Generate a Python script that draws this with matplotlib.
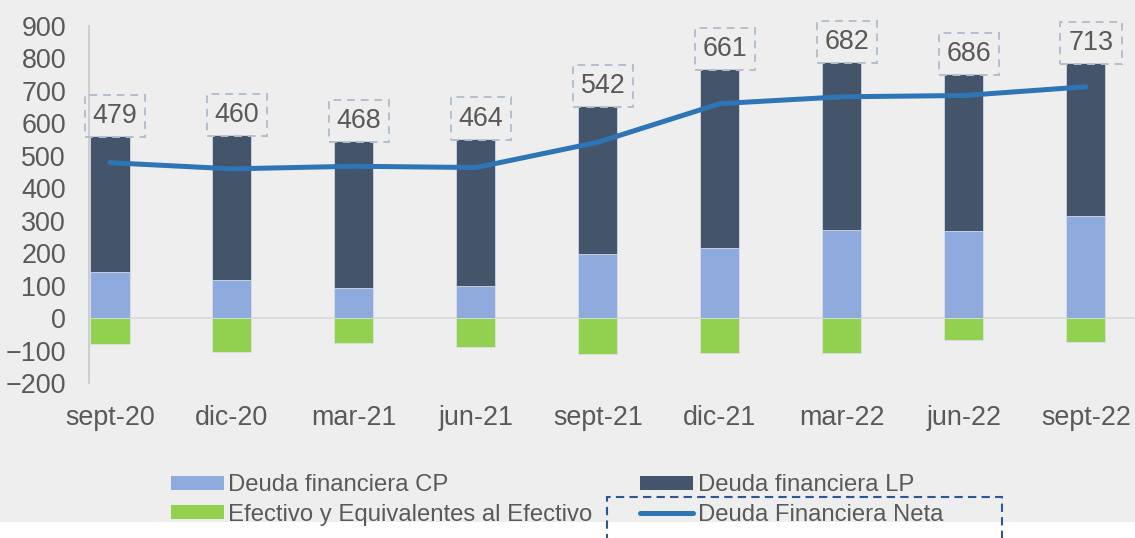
import numpy as np
import matplotlib
matplotlib.use("Agg")
import matplotlib.pyplot as plt
from matplotlib.patches import Rectangle
from matplotlib.lines import Line2D

plt.rcParams['font.family'] = ['Liberation Sans', 'DejaVu Sans']

# data
periodos = ['sept-20', 'dic-20', 'mar-21', 'jun-21', 'sept-21',
            'dic-21', 'mar-22', 'jun-22', 'sept-22']
deuda_cp = [143, 119, 94, 100, 199, 217, 272, 269, 315]
deuda_lp = [417, 444, 451, 453, 454, 551, 517, 483, 470]
efectivo = [-81, -104, -76, -89, -110, -106, -107, -66, -72]
deuda_neta = [479, 460, 468, 464, 542, 661, 682, 686, 713]

c_cp = '#8FAADC'
c_lp = '#44546A'
c_ef = '#92D050'
c_neta = '#2E75B6'
c_txt = '#595959'
bg = '#EEEEEE'

fig = plt.figure(figsize=(11.35, 5.38), dpi=100, facecolor='white')
# gray chart area (white strip at the very bottom)
fig.patches.append(Rectangle((0, 0.0297), 1, 1, transform=fig.transFigure,
                             facecolor=bg, edgecolor='none', zorder=-10))

ax = fig.add_axes([89 / 1135, 0.288, 1046 / 1135, 0.6636])
ax.set_facecolor(bg)

x = np.arange(len(periodos))
w = 0.32
ax.axhline(0, color='#D9D9D9', lw=1.3, zorder=1)
ax.bar(x, deuda_cp, w, color=c_cp, edgecolor='#DCE3EE', lw=0.5, zorder=2)
ax.bar(x, deuda_lp, w, bottom=deuda_cp, color=c_lp, edgecolor='#DCE3EE', lw=0.5, zorder=2)
ax.bar(x, efectivo, w, color=c_ef, edgecolor='#DCE3EE', lw=0.5, zorder=2)
ax.plot(x, deuda_neta, color=c_neta, lw=3.6, solid_capstyle='round',
        solid_joinstyle='round', zorder=3)

total = np.array(deuda_cp) + np.array(deuda_lp)
for xi, t, v in zip(x, total, deuda_neta):
    ax.annotate(str(v), (xi, t), xytext=(3.6, 14.5), textcoords='offset points',
                ha='center', va='center', fontsize=19.4, color=c_txt, zorder=4,
                bbox=dict(boxstyle='square,pad=0.3', facecolor='none',
                          edgecolor='#B4BFCF', lw=1.4, linestyle=(0, (4, 3))))

ax.set_xlim(-0.172, 8.402)
ax.set_ylim(-200, 900)
ax.set_yticks(range(-200, 901, 100))
ax.set_xticks(x)
ax.set_xticklabels(periodos)
ax.tick_params(axis='both', length=0, labelsize=19.4, labelcolor=c_txt)
ax.tick_params(axis='y', pad=16.5)
ax.tick_params(axis='x', pad=16)
for s in ['top', 'right', 'bottom']:
    ax.spines[s].set_visible(False)
ax.spines['left'].set_color('#C8C8C8')
ax.spines['left'].set_linewidth(1.2)

handles = [
    Rectangle((0, 0), 1, 1, facecolor=c_cp),
    Rectangle((0, 0), 1, 1, facecolor=c_ef),
    Rectangle((0, 0), 1, 1, facecolor=c_lp),
    Line2D([0], [0], color=c_neta, lw=3.6, solid_capstyle='round'),
]
labels = ['Deuda financiera CP', 'Efectivo y Equivalentes al Efectivo',
          'Deuda financiera LP', 'Deuda Financiera Neta']
leg = fig.legend(handles, labels, ncol=2, loc='center left',
                 bbox_to_anchor=(171 / 1135, 1 - 500 / 538),
                 frameon=False, fontsize=17.2, handlelength=2.2, handleheight=0.55,
                 handletextpad=0.2, columnspacing=2.0, labelspacing=0.3,
                 borderpad=0, borderaxespad=0)
for t in leg.get_texts():
    t.set_color(c_txt)

# dashed frame around the net-debt legend entry (cut by the bottom edge)
fig.patches.append(Rectangle((607 / 1135, -0.1), 395 / 1135, 0.1 + 1 - 497 / 538,
                             transform=fig.transFigure, facecolor='none',
                             edgecolor='#2F5597', lw=1.5, linestyle=(0, (4, 2.5)),
                             zorder=5))

fig.savefig('out.png', dpi=100, facecolor=fig.get_facecolor())
